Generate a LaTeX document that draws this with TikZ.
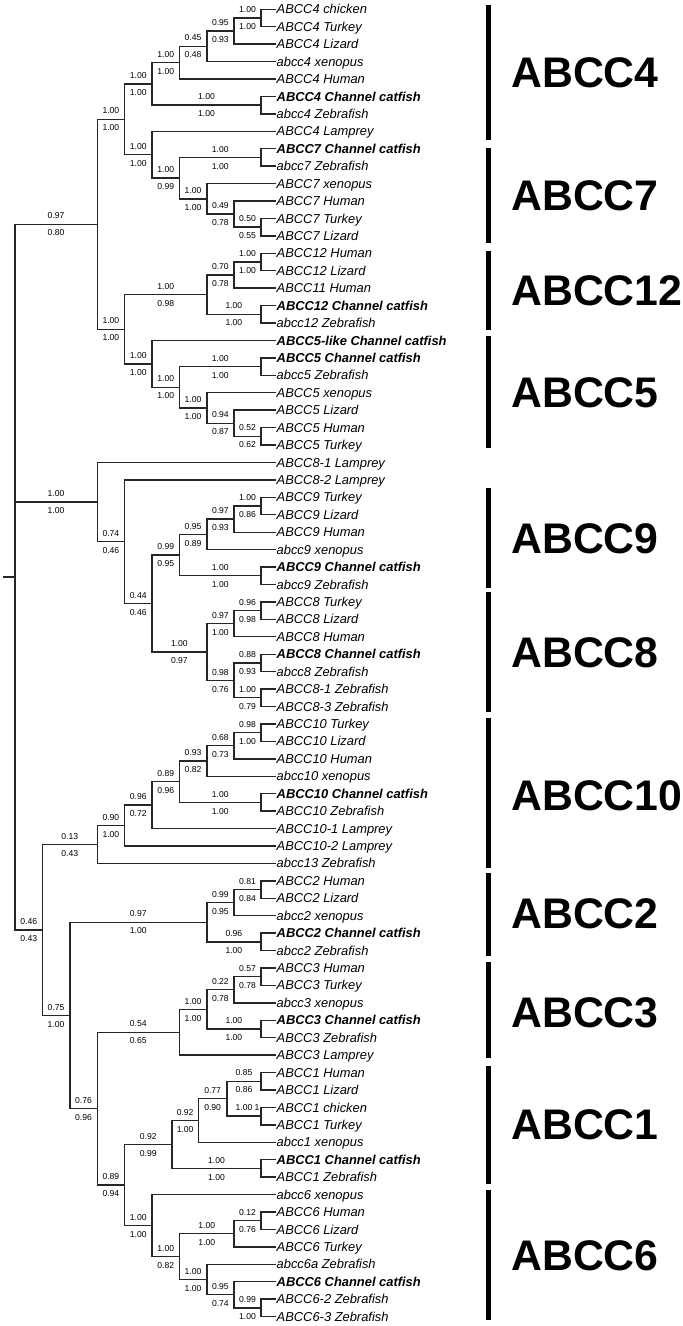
\documentclass[tikz,border=0pt]{standalone}
\usepackage{fontspec}
\setmainfont{Liberation Sans}
\usetikzlibrary{calc}
\newcommand\lf[3][]{\node[leaflab,#1] (T#2) at (275,{9.3+(#2-1)*17.43}) {#3};}
\newcommand\nd[4]{%
  \path ($(#3)!0.5!(#4)$) coordinate (#1mid);
  \coordinate (#1) at (#1mid -| #2);
  \draw[br] (#3) -| (#1) |- (#4);}
\newcommand\lb[4]{%
  \path ($(#1 |- #2)!0.5!(#2)$) coordinate (#2lc);
  \node[sup] (#2la) at ([yshift=8.4pt]#2lc) {#3};
  \node[sup] (#2lb) at ([yshift=-8.6pt]#2lc) {#4};}
\newcommand\grp[5]{%
  \coordinate (#1t) at (488,#2);
  \coordinate (#1b) at (488,#3);
  \draw[bar] (#1t) -- (#1b);
  \node[grp] (#1) at (511,#4) {#5};}
\begin{document}
\begin{tikzpicture}[x=1pt,y=-1pt,
  br/.style={line width=1.4pt, draw=black!85, line cap=rect},
  leaflab/.style={anchor=west, inner xsep=1.5pt, inner ysep=0pt, font=\fontsize{12.9}{14}\selectfont\itshape, text height=9.2pt, text depth=0pt},
  cat/.style={font=\fontsize{12.9}{14}\selectfont\bfseries\itshape},
  sup/.style={inner sep=0pt, font=\fontsize{8.6}{9}\selectfont, text height=6.1pt, text depth=0pt},
  grp/.style={anchor=west, inner sep=0pt, font=\fontsize{42.8}{45}\selectfont\bfseries, text height=30.5pt, text depth=0pt},
  bar/.style={line width=5pt}]
\useasboundingbox (0,0) rectangle (683,1326);
\foreach \n/\v in {0/15,1/42.4,2/69.8,3/97.2,4/124.6,5/152,6/179.4,7/206.8,8/234,9/261,s/4}
  \coordinate (lv\n) at (\v,0);
\coordinate (xa) at (172,0);
\coordinate (xb) at (198.3,0);
\coordinate (xc) at (227,0);
% leaves
\lf{1}{ABCC4 chicken}
\lf{2}{ABCC4 Turkey}
\lf{3}{ABCC4 Lizard}
\lf{4}{abcc4 xenopus}
\lf{5}{ABCC4 Human}
\lf[cat]{6}{ABCC4 Channel catfish}
\lf{7}{abcc4 Zebrafish}
\lf{8}{ABCC4 Lamprey}
\lf[cat]{9}{ABCC7 Channel catfish}
\lf{10}{abcc7 Zebrafish}
\lf{11}{ABCC7 xenopus}
\lf{12}{ABCC7 Human}
\lf{13}{ABCC7 Turkey}
\lf{14}{ABCC7 Lizard}
\lf{15}{ABCC12 Human}
\lf{16}{ABCC12 Lizard}
\lf{17}{ABCC11 Human}
\lf[cat]{18}{ABCC12 Channel catfish}
\lf{19}{abcc12 Zebrafish}
\lf[cat]{20}{ABCC5-like Channel catfish}
\lf[cat]{21}{ABCC5 Channel catfish}
\lf{22}{abcc5 Zebrafish}
\lf{23}{ABCC5 xenopus}
\lf{24}{ABCC5 Lizard}
\lf{25}{ABCC5 Human}
\lf{26}{ABCC5 Turkey}
\lf{27}{ABCC8-1 Lamprey}
\lf{28}{ABCC8-2 Lamprey}
\lf{29}{ABCC9 Turkey}
\lf{30}{ABCC9 Lizard}
\lf{31}{ABCC9 Human}
\lf{32}{abcc9 xenopus}
\lf[cat]{33}{ABCC9 Channel catfish}
\lf{34}{abcc9 Zebrafish}
\lf{35}{ABCC8 Turkey}
\lf{36}{ABCC8 Lizard}
\lf{37}{ABCC8 Human}
\lf[cat]{38}{ABCC8 Channel catfish}
\lf{39}{abcc8 Zebrafish}
\lf{40}{ABCC8-1 Zebrafish}
\lf{41}{ABCC8-3 Zebrafish}
\lf{42}{ABCC10 Turkey}
\lf{43}{ABCC10 Lizard}
\lf{44}{ABCC10 Human}
\lf{45}{abcc10 xenopus}
\lf[cat]{46}{ABCC10 Channel catfish}
\lf{47}{ABCC10 Zebrafish}
\lf{48}{ABCC10-1 Lamprey}
\lf{49}{ABCC10-2 Lamprey}
\lf{50}{abcc13 Zebrafish}
\lf{51}{ABCC2 Human}
\lf{52}{ABCC2 Lizard}
\lf{53}{abcc2 xenopus}
\lf[cat]{54}{ABCC2 Channel catfish}
\lf{55}{abcc2 Zebrafish}
\lf{56}{ABCC3 Human}
\lf{57}{ABCC3 Turkey}
\lf{58}{abcc3 xenopus}
\lf[cat]{59}{ABCC3 Channel catfish}
\lf{60}{ABCC3 Zebrafish}
\lf{61}{ABCC3 Lamprey}
\lf{62}{ABCC1 Human}
\lf{63}{ABCC1 Lizard}
\lf{64}{ABCC1 chicken}
\lf{65}{ABCC1 Turkey}
\lf{66}{abcc1 xenopus}
\lf[cat]{67}{ABCC1 Channel catfish}
\lf{68}{ABCC1 Zebrafish}
\lf{69}{abcc6 xenopus}
\lf{70}{ABCC6 Human}
\lf{71}{ABCC6 Lizard}
\lf{72}{ABCC6 Turkey}
\lf{73}{abcc6a Zebrafish}
\lf[cat]{74}{ABCC6 Channel catfish}
\lf{75}{ABCC6-2 Zebrafish}
\lf{76}{ABCC6-3 Zebrafish}
% top clade
\nd{nH}{lv9}{T1.west}{T2.west}
\nd{nG}{lv8}{nH}{T3.west}
\nd{nF}{lv7}{nG}{T4.west}
\nd{nD}{lv6}{nF}{T5.west}
\nd{nE}{lv9}{T6.west}{T7.west}
\nd{nC}{lv5}{nD}{nE}
\nd{nK}{lv9}{T9.west}{T10.west}
\nd{nN}{lv9}{T13.west}{T14.west}
\nd{nM}{lv8}{T12.west}{nN}
\nd{nL}{lv7}{T11.west}{nM}
\nd{nJ}{lv6}{nK}{nL}
\nd{nI}{lv5}{T8.west}{nJ}
\nd{nB}{lv4}{nC}{nI}
\nd{nX}{lv9}{T15.west}{T16.west}
\nd{nV}{lv8}{nX}{T17.west}
\nd{nW}{lv9}{T18.west}{T19.west}
\nd{nT}{lv7}{nV}{nW}
\nd{nZ}{lv9}{T21.west}{T22.west}
\nd{nAC}{lv9}{T25.west}{T26.west}
\nd{nAB}{lv8}{T24.west}{nAC}
\nd{nAA}{lv7}{T23.west}{nAB}
\nd{nY}{lv6}{nZ}{nAA}
\nd{nU}{lv5}{T20.west}{nY}
\nd{nS}{lv4}{nT}{nU}
\nd{nA}{lv3}{nB}{nS}
% middle clade
\nd{nAK}{lv9}{T29.west}{T30.west}
\nd{nAJ}{lv8}{nAK}{T31.west}
\nd{nAH}{lv7}{nAJ}{T32.west}
\nd{nAI}{lv9}{T33.west}{T34.west}
\nd{nAF}{lv6}{nAH}{nAI}
\nd{nAN}{lv9}{T35.west}{T36.west}
\nd{nAL}{lv8}{nAN}{T37.west}
\nd{nAO}{lv9}{T38.west}{T39.west}
\nd{nAP}{lv9}{T40.west}{T41.west}
\nd{nAM}{lv8}{nAO}{nAP}
\nd{nAG}{lv7}{nAL}{nAM}
\nd{nAE}{lv5}{nAF}{nAG}
\nd{nAD}{lv4}{T28.west}{nAE}
\nd{nP}{lv3}{T27.west}{nAD}
% bottom clade
\nd{nAY}{lv9}{T42.west}{T43.west}
\nd{nAX}{lv8}{nAY}{T44.west}
\nd{nAV}{lv7}{nAX}{T45.west}
\nd{nAW}{lv9}{T46.west}{T47.west}
\nd{nAU}{lv6}{nAV}{nAW}
\nd{nAT}{lv5}{nAU}{T48.west}
\nd{nAS}{lv4}{nAT}{T49.west}
\nd{nAQ}{lv3}{nAS}{T50.west}
\nd{nBD}{lv9}{T51.west}{T52.west}
\nd{nBB}{lv8}{nBD}{T53.west}
\nd{nBC}{lv9}{T54.west}{T55.west}
\nd{nAZ}{lv7}{nBB}{nBC}
\nd{nBJ}{lv9}{T56.west}{T57.west}
\nd{nBH}{lv8}{nBJ}{T58.west}
\nd{nBI}{lv9}{T59.west}{T60.west}
\nd{nBG}{lv7}{nBH}{nBI}
\nd{nBE}{lv6}{nBG}{T61.west}
\nd{nBO}{lv9}{T62.west}{T63.west}
\nd{nBP}{lv9}{T64.west}{T65.west}
\nd{nBN}{xc}{nBO}{nBP}
\nd{nBL}{xb}{nBN}{T66.west}
\nd{nBM}{lv9}{T67.west}{T68.west}
\nd{nBK}{xa}{nBL}{nBM}
\nd{nBU}{lv9}{T70.west}{T71.west}
\nd{nBS}{lv8}{nBU}{T72.west}
\nd{nBW}{lv9}{T75.west}{T76.west}
\nd{nBV}{lv8}{T74.west}{nBW}
\nd{nBT}{lv7}{T73.west}{nBV}
\nd{nBR}{lv6}{nBS}{nBT}
\nd{nBQ}{lv5}{T69.west}{nBR}
\nd{nBF}{lv4}{nBK}{nBQ}
\nd{nBA}{lv3}{nBE}{nBF}
\nd{nAR}{lv2}{nAZ}{nBA}
\nd{nQ}{lv1}{nAQ}{nAR}
\nd{nR}{lv0}{nA}{nQ}
\draw[br] (nP) -| (nR);
\coordinate (stub) at (nR -| lvs);
\draw[br] (stub) -- (nR);
% support values
\lb{nG}{nH}{1.00}{1.00}
\lb{nF}{nG}{0.95}{0.93}
\lb{nD}{nF}{0.45}{0.48}
\lb{nC}{nD}{1.00}{1.00}
\lb{nC}{nE}{1.00}{1.00}
\lb{nB}{nC}{1.00}{1.00}
\lb{nJ}{nK}{1.00}{1.00}
\lb{nM}{nN}{0.50}{0.55}
\lb{nL}{nM}{0.49}{0.78}
\lb{nJ}{nL}{1.00}{1.00}
\lb{nI}{nJ}{1.00}{0.99}
\lb{nB}{nI}{1.00}{1.00}
\lb{nA}{nB}{1.00}{1.00}
\lb{nV}{nX}{1.00}{1.00}
\lb{nT}{nV}{0.70}{0.78}
\lb{nT}{nW}{1.00}{1.00}
\lb{nS}{nT}{1.00}{0.98}
\lb{nY}{nZ}{1.00}{1.00}
\lb{nAB}{nAC}{0.52}{0.62}
\lb{nAA}{nAB}{0.94}{0.87}
\lb{nY}{nAA}{1.00}{1.00}
\lb{nU}{nY}{1.00}{1.00}
\lb{nS}{nU}{1.00}{1.00}
\lb{nA}{nS}{1.00}{1.00}
\lb{nR}{nA}{0.97}{0.80}
\lb{nAJ}{nAK}{1.00}{0.86}
\lb{nAH}{nAJ}{0.97}{0.93}
\lb{nAF}{nAH}{0.95}{0.89}
\lb{nAF}{nAI}{1.00}{1.00}
\lb{nAE}{nAF}{0.99}{0.95}
\lb{nAL}{nAN}{0.96}{0.98}
\lb{nAG}{nAL}{0.97}{1.00}
\lb{nAM}{nAO}{0.88}{0.93}
\lb{nAM}{nAP}{1.00}{0.79}
\lb{nAG}{nAM}{0.98}{0.76}
\lb{nAE}{nAG}{1.00}{0.97}
\lb{nAD}{nAE}{0.44}{0.46}
\lb{nP}{nAD}{0.74}{0.46}
\lb{nR}{nP}{1.00}{1.00}
\lb{nAX}{nAY}{0.98}{1.00}
\lb{nAV}{nAX}{0.68}{0.73}
\lb{nAU}{nAV}{0.93}{0.82}
\lb{nAU}{nAW}{1.00}{1.00}
\lb{nAT}{nAU}{0.89}{0.96}
\lb{nAS}{nAT}{0.96}{0.72}
\lb{nAQ}{nAS}{0.90}{1.00}
\lb{nQ}{nAQ}{0.13}{0.43}
\lb{nBB}{nBD}{0.81}{0.84}
\lb{nAZ}{nBB}{0.99}{0.95}
\lb{nAZ}{nBC}{0.96}{1.00}
\lb{nAR}{nAZ}{0.97}{1.00}
\lb{nBH}{nBJ}{0.57}{0.78}
\lb{nBG}{nBH}{0.22}{0.78}
\lb{nBG}{nBI}{1.00}{1.00}
\lb{nBE}{nBG}{1.00}{1.00}
\lb{nBA}{nBE}{0.54}{0.65}
\lb{nBN}{nBO}{0.85}{0.86}
\path ($(nBN |- nBP)!0.5!(nBP)$) coordinate (nBPlc);
\node[sup] (nBPla) at ([yshift=8.4pt]nBPlc) {1.00};
\node[sup] (nBPone) at ([xshift=13pt,yshift=8.4pt]nBPlc) {1};
\lb{nBL}{nBN}{0.77}{0.90}
\lb{nBK}{nBL}{0.92}{1.00}
\lb{nBK}{nBM}{1.00}{1.00}
\lb{nBF}{nBK}{0.92}{0.99}
\lb{nBS}{nBU}{0.12}{0.76}
\lb{nBR}{nBS}{1.00}{1.00}
\lb{nBV}{nBW}{0.99}{1.00}
\lb{nBT}{nBV}{0.95}{0.74}
\lb{nBR}{nBT}{1.00}{1.00}
\lb{nBQ}{nBR}{1.00}{0.82}
\lb{nBF}{nBQ}{1.00}{1.00}
\lb{nBA}{nBF}{0.89}{0.94}
\lb{nAR}{nBA}{0.76}{0.96}
\lb{nQ}{nAR}{0.75}{1.00}
\lb{nR}{nQ}{0.46}{0.43}
% group bars
\grp{g4}{5}{140}{72}{ABCC4}
\grp{g7}{148}{243}{195}{ABCC7}
\grp{g12}{251}{330}{290}{ABCC12}
\grp{g5}{336}{448}{392}{ABCC5}
\grp{g9}{488}{588}{538}{ABCC9}
\grp{g8}{592}{712}{652}{ABCC8}
\grp{g10}{718}{868}{795}{ABCC10}
\grp{g2}{873}{956}{913}{ABCC2}
\grp{g3}{962}{1058}{1012}{ABCC3}
\grp{g1}{1066}{1184}{1124}{ABCC1}
\grp{g6}{1190}{1320}{1255}{ABCC6}
\end{tikzpicture}
\end{document}
